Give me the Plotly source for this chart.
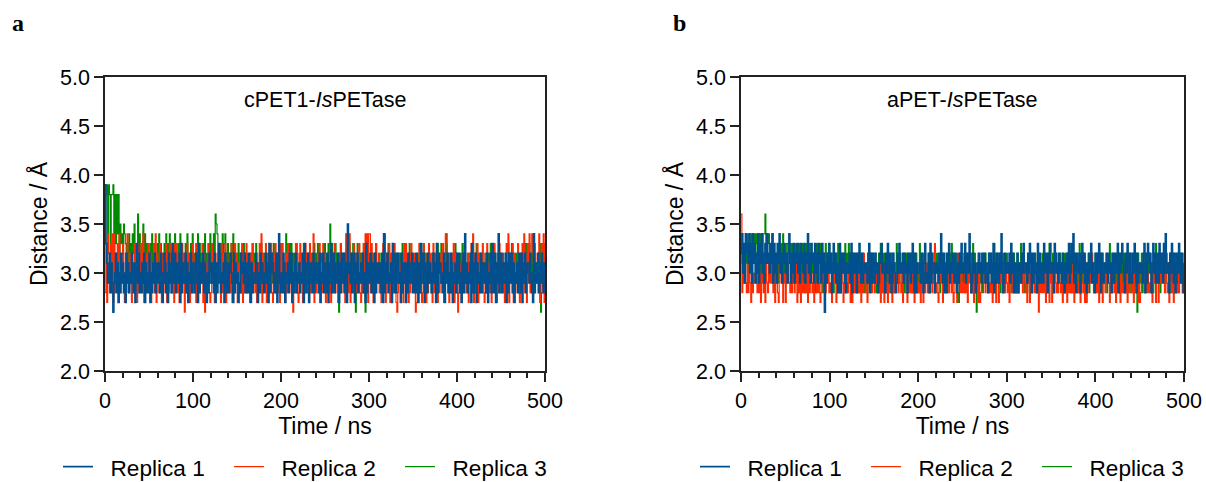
import plotly.graph_objects as go

# Distance values (Å) encoded per sample: value = 2.6 + 0.1 * int(char, 16)
# 500 samples per series, evenly spaced over 0-500 ns.
blue_a = ("d753462520" "3462514263" "5241635243" "6325147362" "4253615324"
          "6142536245" "3526413652" "4163527436" "2543617254" "3625143625"
          "5236417253" "4625314263" "3542615237" "6243516425" "2564316253"
          "4132645362" "5426315243" "3651426354" "2463517246" "5324615832"
          "4265134526" "3614256243" "5243617325" "6135426254" "3526143625"
          "4261537246" "2543615264" "3625194536" "2461536243" "5362417253"
          "4625316245" "3542618253" "6243517426" "2563416235" "4152643562"
          "5426315273" "3615426354" "2463517264" "5342615362" "4265134526"
          "3624156283" "5243617325" "6153426254" "3526143627" "4261538246"
          "2543615264" "3625143526" "4261536245" "5364218253" "4625364253")
red_a = ("2718627381" "8263718254" "7316285263" "1527361726" "3728152637"
         "2615372816" "5273162537" "1627352617" "3726152736" "0527361527"
         "6351726253" "7160532721" "2736152637" "5172637152" "3627152736"
         "1536271625" "7253162735" "2615372816" "5371625372" "1627352617"
         "3725162735" "6210537261" "2736152736" "5172638152" "3627152736"
         "1536271625" "7253162735" "2618372816" "5371625372" "1627382818"
         "8273162735" "6251372816" "5371625372" "1026352617" "3725162735"
         "6201537261" "2736152736" "5172637152" "3627158736" "1536271625"
         "0253162735" "2615372816" "5371625372" "1627352617" "3725162735"
         "6251372816" "5371625372" "1627382617" "3825862735" "6281372817")
green_a = ("7cd6dc7ccd" "6c7c8c5978" "6987573847" "5869475a48" "6479385746"
           "3748573627" "4857364738" "5738462748" "3647385736" "4758264738"
           "3627485736" "5748362748" "47384a9837" "5738478637" "3627485736"
           "4736265735" "2645365746" "3735465736" "4625364756" "3745265736"
           "4635285647" "3726465735" "4635275346" "3625465736" "4736265347"
           "3647294736" "4736205736" "3625465736" "4736027536" "3627402736"
           "4536265734" "3625465736" "4735265634" "3645365736" "4526375645"
           "3635465726" "4736265635" "2645365736" "4736265845" "3625465736"
           "4536275634" "3645365726" "4736265645" "3625465736" "4735265634"
           "3645365736" "4726365645" "3625465736" "4736265634" "3647025736")
blue_b = ("6847386758" "4738573648" "3758463758" "5647583746" "3758463575"
          "4637853647" "3657463756" "4736584637" "5637463756" "3746053647"
          "4625746352" "3726546325" "5463726456" "2647536345" "4536726365"
          "3645236574" "5426475362" "3654236475" "4563645264" "6347526254"
          "4536425734" "3627365425" "4536485362" "5264735465" "3642536475"
          "4573654862" "3645235464" "5364635426" "4635725364" "3648523645"
          "5463746252" "3625436475" "4536475263" "6452736354" "3746526475"
          "4527645364" "5364253647" "3475836265" "4625746352" "5364735426"
          "3647526435" "4563645264" "3654726457" "5426475364" "3647526345"
          "4536726375" "6425746356" "3746537485" "4526475362" "3647536425")
red_b = ("a253432524" "3152433625" "2415324153" "2534362514" "3215435134"
         "1435324253" "2351425142" "3242615253" "2415324251" "2534325362"
         "3215435153" "2436314253" "2531415242" "3252415263" "2415364253"
         "2534325142" "4152315253" "1325334253" "2513352142" "3262415253"
         "2415314253" "2543325372" "3215435153" "2435234251" "2531365242"
         "3252415353" "2415324151" "2353425342" "3251435163" "1435324253"
         "2514325242" "3225435253" "2415314253" "2534305242" "3251435153"
         "1436324253" "2514325142" "3252415353" "2415324151" "2534365242"
         "3251435153" "2435314253" "2513425142" "3252415263" "2415324151"
         "2534325242" "3251435153" "1435364253" "2514325142" "3252435253")
green_b = ("5736475847" "7838787847" "7847388a78" "7847384736" "5737475837"
           "4777675737" "4737275637" "3627475736" "4637275647" "3726475637"
           "4635265647" "3625465736" "4736265635" "3625465642" "4526365635"
           "3625465736" "4635265645" "3625475436" "4536265635" "3625465642"
           "4726365635" "3625465436" "4635265645" "3625465736" "4536215635"
           "3625465642" "4726305635" "3625465436" "4635275645" "3625465536"
           "4536265635" "3625475642" "4526365635" "3625465436" "4635265745"
           "3625465536" "4536265635" "3625465642" "4726365635" "3625465436"
           "4635265645" "3625475536" "4536265635" "3625465642" "4526360635"
           "3625465436" "4635265745" "3625465536" "4536265635" "3625465642")

T_END = 500
replica_names = ["Replica 1", "Replica 2", "Replica 3"]
panel_titles = ["cPET1-<i>Is</i>PETase", "aPET-<i>Is</i>PETase"]
panel_letters = ["a", "b"]
colors = ["#00508F", "#FF2A00", "#008A00"]
widths = [1.7, 1.2, 1.2]


def decode(s):
    return [round(2.6 + 0.1 * int(c, 16), 2) for c in s]


def times(n):
    return [i * T_END / (n - 1) for i in range(n)]


panels = [[blue_a, red_a, green_a], [blue_b, red_b, green_b]]

fig = go.Figure()
W, H = 1206, 482
doms = [(105 / W, 545 / W), (741 / W, 1184 / W)]
ydom = (1 - 371 / H, 1 - 77 / H)
FONT = "Liberation Sans, Arial, sans-serif"
PAD = "\u00a0\u00a0"

for p, series in enumerate(panels):
    xa = "x" if p == 0 else "x2"
    ya = "y" if p == 0 else "y2"
    lg = "legend" if p == 0 else "legend2"
    for k in [2, 1, 0]:
        vals = decode(series[k])
        fig.add_trace(go.Scatter(
            x=times(len(vals)), y=vals, mode="lines",
            line=dict(color=colors[k], width=widths[k], shape="hv"),
            name=PAD + replica_names[k], legendrank=k + 1,
            xaxis=xa, yaxis=ya, legend=lg))

axis_common = dict(showline=True, linecolor="#222", linewidth=1.5, mirror=True,
                   ticks="outside", tickwidth=1.5, tickcolor="#222",
                   showgrid=False, zeroline=False, automargin=False,
                   tickfont=dict(family=FONT, size=21.5, color="#000"))
for p in range(2):
    sx = "" if p == 0 else "2"
    fig.update_layout(**{
        f"xaxis{sx}": dict(axis_common, domain=doms[p], range=[0, 500], dtick=100,
                           ticklen=9, anchor=f"y{sx}",
                           minor=dict(dtick=20, ticklen=5, ticks="outside",
                                      tickwidth=1.5, tickcolor="#222"),
                           title=dict(text="Time / ns", standoff=2,
                                      font=dict(family=FONT, size=23, color="#000"))),
        f"yaxis{sx}": dict(axis_common, domain=ydom, range=[2, 5], dtick=0.5,
                           tickformat=".1f", ticklen=9, anchor=f"x{sx}",
                           title=dict(text="Distance / Å", standoff=6,
                                      font=dict(family=FONT, size=23, color="#000"))),
    })
    fig.add_annotation(x=250, y=4.77, xref=f"x{sx}", yref=f"y{sx}",
                       text=panel_titles[p], showarrow=False,
                       font=dict(family=FONT, size=21.5, color="#000"))
    fig.add_annotation(x=(10 if p == 0 else 671) / W, y=1 - 23 / H,
                       xref="paper", yref="paper", text=f"<b>{panel_letters[p]}</b>",
                       showarrow=False, xanchor="left", yanchor="middle",
                       font=dict(family="Liberation Serif, Times New Roman, serif",
                                 size=24, color="#000"))

leg_common = dict(orientation="h", xanchor="left", yanchor="middle",
                  y=1 - 467 / H, font=dict(family=FONT, size=22.6, color="#000"),
                  bgcolor="rgba(0,0,0,0)", traceorder="normal", itemwidth=30,
                  entrywidth=126)
fig.update_layout(
    width=W, height=H, margin=dict(l=0, r=0, t=0, b=0, autoexpand=False),
    paper_bgcolor="white", plot_bgcolor="white",
    showlegend=True,
    legend=dict(leg_common, x=58 / W),
    legend2=dict(leg_common, x=695 / W),
)

fig.write_html("out.html", config={"displayModeBar": False},
               post_script="document.body.style.margin='0';"
                           "document.body.style.overflow='hidden';")
